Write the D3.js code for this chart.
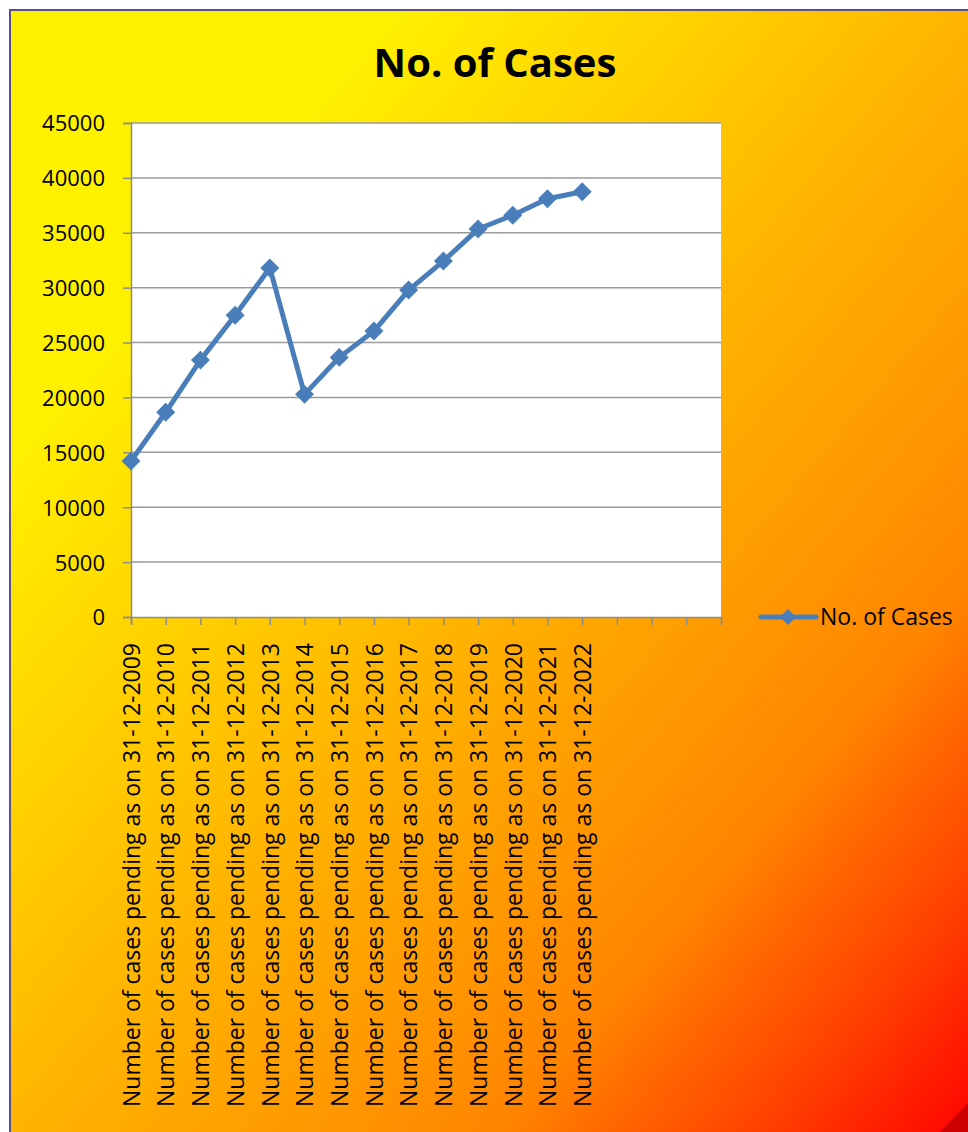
<!DOCTYPE html>
<html><head><meta charset="utf-8">
<script src="https://cdn.jsdelivr.net/npm/d3@7"></script>
<style>html,body{margin:0;padding:0;background:#fff;}svg{display:block;}</style>
</head><body>
<svg id="chart" width="968" height="1132"></svg>
<script>
const title = "No. of Cases";
const seriesName = "No. of Cases";
const categories = [
  "Number of cases pending as on 31-12-2009",
  "Number of cases pending as on 31-12-2010",
  "Number of cases pending as on 31-12-2011",
  "Number of cases pending as on 31-12-2012",
  "Number of cases pending as on 31-12-2013",
  "Number of cases pending as on 31-12-2014",
  "Number of cases pending as on 31-12-2015",
  "Number of cases pending as on 31-12-2016",
  "Number of cases pending as on 31-12-2017",
  "Number of cases pending as on 31-12-2018",
  "Number of cases pending as on 31-12-2019",
  "Number of cases pending as on 31-12-2020",
  "Number of cases pending as on 31-12-2021",
  "Number of cases pending as on 31-12-2022",
  "", "", "", ""
];
const values = [14200, 18650, 23400, 27480, 31800, 20280, 23650, 26050, 29780, 32420, 35340, 36590, 38100, 38740];
const yTicks = [0, 5000, 10000, 15000, 20000, 25000, 30000, 35000, 40000, 45000];

const svg = d3.select("#chart");
const defs = svg.append("defs");
const grad = defs.append("linearGradient").attr("id", "bg")
  .attr("x1", 0).attr("y1", 0).attr("x2", 1).attr("y2", 1);
[[0, "#fff200"], [0.2, "#fff000"], [0.38, "#ffcc00"], [0.5, "#ffb400"],
 [0.67, "#ff9400"], [0.75, "#ff8400"], [0.81, "#ff6400"], [0.88, "#ff4200"],
 [0.96, "#ff1500"], [1, "#ff0000"]]
  .forEach(([o, c]) => grad.append("stop").attr("offset", o).attr("stop-color", c));

// chart area
svg.append("rect").attr("x", 10).attr("y", 10).attr("width", 970).attr("height", 1130)
  .attr("fill", "url(#bg)").attr("stroke", "#5e4f86").attr("stroke-width", 2);
svg.append("polygon").attr("points", "940,1132 968,1103 968,1132").attr("fill", "#cc0000");

const x0 = 131, x1 = 721, yTop = 123, yBot = 617;
const x = d3.scalePoint().domain(d3.range(categories.length)).range([x0, x1]);
const y = d3.scaleLinear().domain([0, 45000]).range([yBot, yTop]);

// plot area
svg.append("rect").attr("x", x0).attr("y", yTop).attr("width", x1 - x0).attr("height", yBot - yTop).attr("fill", "#fff");

// gridlines
svg.append("g").selectAll("line").data(yTicks.filter(d => d > 0)).join("line")
  .attr("x1", x0).attr("x2", x1).attr("y1", d => y(d)).attr("y2", d => y(d))
  .attr("stroke", "#9a9a9a").attr("stroke-width", 1.5);

const font = "'Open Sans', sans-serif";

// y axis
const yAxis = svg.append("g").attr("transform", `translate(${x0},0)`)
  .call(d3.axisLeft(y).tickValues(yTicks).tickSize(8).tickPadding(18).tickFormat(d3.format("d")));
yAxis.select(".domain").attr("stroke", "#8c8c8c").attr("stroke-width", 1.5);
yAxis.selectAll(".tick line").attr("stroke", "#8c8c8c").attr("stroke-width", 1.5);
yAxis.selectAll(".tick text").attr("font-family", font).attr("font-size", 22).attr("fill", "#000")
  .attr("dy", "0.36em");

// x axis
const xAxis = svg.append("g").attr("transform", `translate(0,${yBot})`)
  .call(d3.axisBottom(x).tickSize(8).tickFormat(i => categories[i]));
xAxis.select(".domain").attr("stroke", "#8c8c8c").attr("stroke-width", 1.5);
xAxis.selectAll(".tick line").attr("stroke", "#8c8c8c").attr("stroke-width", 1.5);
xAxis.selectAll(".tick text")
  .attr("font-family", font).attr("font-size", 23).attr("fill", "#000")
  .attr("text-anchor", "end").attr("transform", "rotate(-90)")
  .attr("x", -26).attr("y", 0).attr("dy", "0.36em")
  .each(function(i) { if (categories[i]) { d3.select(this).attr("textLength", 464).attr("lengthAdjust", "spacingAndGlyphs"); } });

// line
const blue = "#4a7ebb";
svg.append("path").datum(values)
  .attr("d", d3.line().x((d, i) => x(i)).y(d => y(d)))
  .attr("fill", "none").attr("stroke", blue).attr("stroke-width", 5).attr("stroke-linejoin", "round");
const diamond = d3.symbol(d3.symbolSquare, 180);
svg.append("g").selectAll("path").data(values).join("path")
  .attr("d", diamond)
  .attr("transform", (d, i) => `translate(${x(i)},${y(d)}) rotate(45)`)
  .attr("fill", blue);

// title
svg.append("text").attr("x", 495).attr("y", 77).attr("text-anchor", "middle")
  .attr("font-family", font).attr("font-weight", 700).attr("font-size", 40).attr("fill", "#000")
  .text(title);

// legend
const lg = svg.append("g");
lg.append("line").attr("x1", 761).attr("x2", 816).attr("y1", 617).attr("y2", 617)
  .attr("stroke", blue).attr("stroke-width", 5).attr("stroke-linecap", "round");
lg.append("path").attr("d", d3.symbol(d3.symbolSquare, 130)).attr("transform", "translate(788,617) rotate(45)").attr("fill", blue);
lg.append("text").attr("x", 820).attr("y", 625).attr("font-family", font).attr("font-size", 23).attr("fill", "#000").text(seriesName);
</script>
</body></html>
